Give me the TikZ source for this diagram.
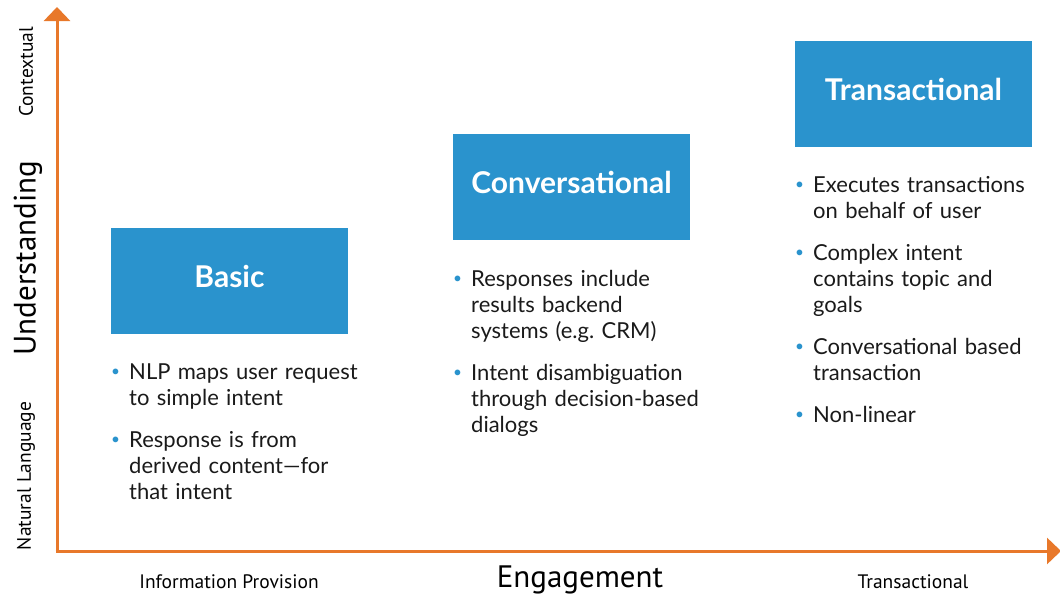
\documentclass[tikz,border=0pt]{standalone}
\usepackage{fontspec}
\setmainfont{Lato}
\newfontfamily\axisfont{PT Sans}
\usepackage{tikz}
\usetikzlibrary{arrows.meta}
\usetikzlibrary{positioning}

\definecolor{axisorange}{HTML}{E8782A}
\definecolor{boxblue}{HTML}{2A93CD}
\definecolor{bodytext}{HTML}{1A1A1A}

% one bullet point with a hanging indent
\newcommand{\point}[1]{\par\hangindent=18pt\hangafter=1\noindent\hbox to 18pt{\raisebox{3pt}{\textcolor{boxblue}{\scalebox{0.7}{\textbullet}}}\hfil}#1\par\vspace{16pt}}

\tikzset{
    stage/.style={fill=boxblue, minimum width=237pt, minimum height=106pt, inner sep=0pt,
        text height=22pt, text depth=9pt,
        text=white, font=\fontsize{30}{34}\selectfont\bfseries},
    points/.style={anchor=north west, text width=262pt, inner sep=0pt, text=bodytext,
        font=\fontsize{22}{26}\selectfont\raggedright\frenchspacing},
    axistitle/.style={font=\axisfont\fontsize{31}{34}\selectfont},
    axistick/.style={font=\axisfont\fontsize{19.5}{22}\selectfont},
}

\begin{document}
\begin{tikzpicture}[x=1pt,y=-1pt]
            \useasboundingbox (0,0) rectangle (1060,597);

            \coordinate (origin) at (57,551);
            \coordinate (ytop) at (57,7);
            \coordinate (xend) at (1061,551);

            \draw [line width=3pt,color=axisorange,-{Triangle[length=14pt,width=26pt]}] ([yshift=-1.5pt]origin) -- (ytop);
            \draw [line width=3pt,color=axisorange,-{Triangle[length=14pt,width=26pt]}] ([xshift=-1.5pt]origin) -- (xend);

            % the three stages
            \node[stage] (basic) at (229.5,281) {Basic};
            \node[stage] (conv) at (571.5,187) {Conversational};
            \node[stage] (trans) at (913.5,94) {Transactional};

            \node[points] (basicpts) at (111,353) {%
                \point{NLP maps user request\newline to simple intent}
                \point{Response is from\newline derived content---for\newline that intent}};
            \node[points] (convpts) at (453,260) {%
                \point{Responses include\newline results backend\newline systems (e.g. CRM)}
                \point{Intent disambiguation\newline through decision-based\newline dialogs}};
            \node[points] (transpts) at (795,166) {%
                \point{Executes transactions\newline on behalf of user}
                \point{Complex intent\newline contains topic and\newline goals}
                \point{Conversational based\newline transaction}
                \point{Non-linear}};

            % axis labels
            \node[axistitle,rotate=90] (understanding) at (28,258) {Understanding};
            \node[axistick,rotate=90] (contextual) at (26,72) {Contextual};
            \node[axistick,rotate=90] (natural) at (26,476) {Natural Language};
            \node[axistitle] (engagement) at (580,580) {Engagement};
            \node[axistick] (info) at (229,582) {Information Provision};
            \node[axistick] (transtick) at (913,582) {Transactional};
        \end{tikzpicture}
\end{document}
